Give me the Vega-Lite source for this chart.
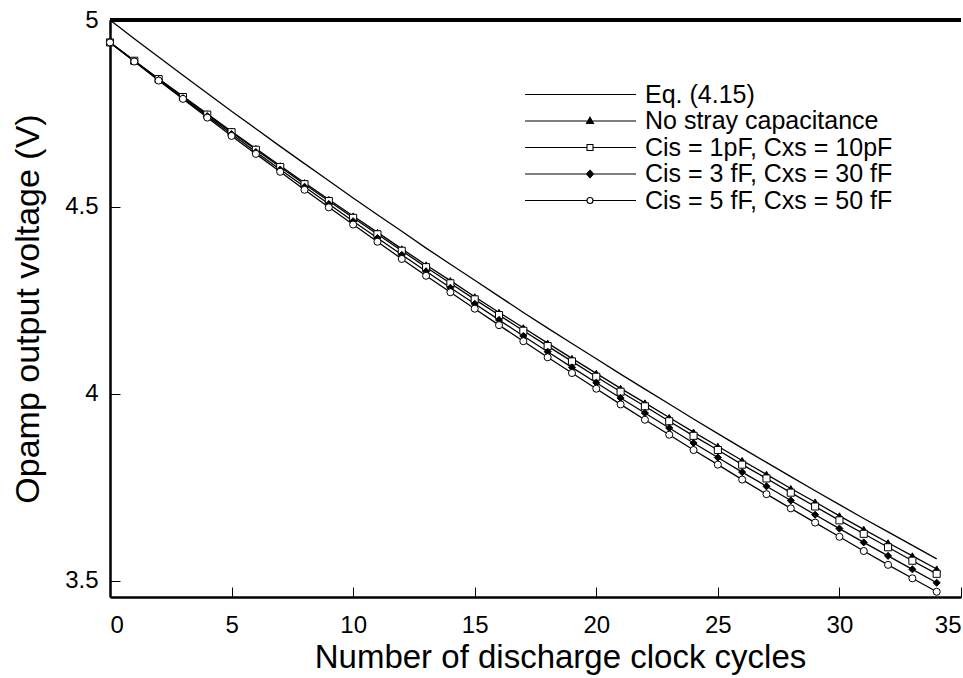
{
  "$schema": "https://vega.github.io/schema/vega-lite/v6.json",
  "width": 851,
  "height": 577,
  "autosize": {"type": "none"},
  "padding": {"left": 110, "top": 20, "right": 2, "bottom": 81},
  "background": "white",
  "config": {
    "view": {"stroke": null},
    "font": "Liberation Sans",
    "axis": {
      "domainColor": "black",
      "domainWidth": 2.5,
      "tickColor": "black",
      "tickWidth": 1,
      "tickSize": -10,
      "labelColor": "black",
      "labelFont": "Liberation Sans",
      "labelFontSize": 24,
      "titleFont": "Liberation Sans",
      "titleFontWeight": "normal",
      "titleColor": "black",
      "grid": false
    }
  },
  "data": {
    "values": [
      {"n": 0, "s": "Eq. (4.15)", "v": 5.000},
      {"n": 1, "s": "Eq. (4.15)", "v": 4.950},
      {"n": 2, "s": "Eq. (4.15)", "v": 4.901},
      {"n": 3, "s": "Eq. (4.15)", "v": 4.852},
      {"n": 4, "s": "Eq. (4.15)", "v": 4.804},
      {"n": 5, "s": "Eq. (4.15)", "v": 4.756},
      {"n": 6, "s": "Eq. (4.15)", "v": 4.709},
      {"n": 7, "s": "Eq. (4.15)", "v": 4.662},
      {"n": 8, "s": "Eq. (4.15)", "v": 4.616},
      {"n": 9, "s": "Eq. (4.15)", "v": 4.570},
      {"n": 10, "s": "Eq. (4.15)", "v": 4.524},
      {"n": 11, "s": "Eq. (4.15)", "v": 4.479},
      {"n": 12, "s": "Eq. (4.15)", "v": 4.435},
      {"n": 13, "s": "Eq. (4.15)", "v": 4.390},
      {"n": 14, "s": "Eq. (4.15)", "v": 4.347},
      {"n": 15, "s": "Eq. (4.15)", "v": 4.304},
      {"n": 16, "s": "Eq. (4.15)", "v": 4.261},
      {"n": 17, "s": "Eq. (4.15)", "v": 4.218},
      {"n": 18, "s": "Eq. (4.15)", "v": 4.176},
      {"n": 19, "s": "Eq. (4.15)", "v": 4.135},
      {"n": 20, "s": "Eq. (4.15)", "v": 4.094},
      {"n": 21, "s": "Eq. (4.15)", "v": 4.053},
      {"n": 22, "s": "Eq. (4.15)", "v": 4.013},
      {"n": 23, "s": "Eq. (4.15)", "v": 3.973},
      {"n": 24, "s": "Eq. (4.15)", "v": 3.933},
      {"n": 25, "s": "Eq. (4.15)", "v": 3.894},
      {"n": 26, "s": "Eq. (4.15)", "v": 3.855},
      {"n": 27, "s": "Eq. (4.15)", "v": 3.817},
      {"n": 28, "s": "Eq. (4.15)", "v": 3.779},
      {"n": 29, "s": "Eq. (4.15)", "v": 3.741},
      {"n": 30, "s": "Eq. (4.15)", "v": 3.704},
      {"n": 31, "s": "Eq. (4.15)", "v": 3.667},
      {"n": 32, "s": "Eq. (4.15)", "v": 3.631},
      {"n": 33, "s": "Eq. (4.15)", "v": 3.595},
      {"n": 34, "s": "Eq. (4.15)", "v": 3.559},

      {"n": 0, "s": "No stray capacitance", "v": 4.940},
      {"n": 1, "s": "No stray capacitance", "v": 4.891},
      {"n": 2, "s": "No stray capacitance", "v": 4.843},
      {"n": 3, "s": "No stray capacitance", "v": 4.796},
      {"n": 4, "s": "No stray capacitance", "v": 4.749},
      {"n": 5, "s": "No stray capacitance", "v": 4.702},
      {"n": 6, "s": "No stray capacitance", "v": 4.656},
      {"n": 7, "s": "No stray capacitance", "v": 4.610},
      {"n": 8, "s": "No stray capacitance", "v": 4.565},
      {"n": 9, "s": "No stray capacitance", "v": 4.520},
      {"n": 10, "s": "No stray capacitance", "v": 4.476},
      {"n": 11, "s": "No stray capacitance", "v": 4.432},
      {"n": 12, "s": "No stray capacitance", "v": 4.388},
      {"n": 13, "s": "No stray capacitance", "v": 4.345},
      {"n": 14, "s": "No stray capacitance", "v": 4.303},
      {"n": 15, "s": "No stray capacitance", "v": 4.260},
      {"n": 16, "s": "No stray capacitance", "v": 4.218},
      {"n": 17, "s": "No stray capacitance", "v": 4.177},
      {"n": 18, "s": "No stray capacitance", "v": 4.136},
      {"n": 19, "s": "No stray capacitance", "v": 4.095},
      {"n": 20, "s": "No stray capacitance", "v": 4.055},
      {"n": 21, "s": "No stray capacitance", "v": 4.015},
      {"n": 22, "s": "No stray capacitance", "v": 3.976},
      {"n": 23, "s": "No stray capacitance", "v": 3.937},
      {"n": 24, "s": "No stray capacitance", "v": 3.898},
      {"n": 25, "s": "No stray capacitance", "v": 3.860},
      {"n": 26, "s": "No stray capacitance", "v": 3.822},
      {"n": 27, "s": "No stray capacitance", "v": 3.785},
      {"n": 28, "s": "No stray capacitance", "v": 3.747},
      {"n": 29, "s": "No stray capacitance", "v": 3.711},
      {"n": 30, "s": "No stray capacitance", "v": 3.674},
      {"n": 31, "s": "No stray capacitance", "v": 3.638},
      {"n": 32, "s": "No stray capacitance", "v": 3.602},
      {"n": 33, "s": "No stray capacitance", "v": 3.567},
      {"n": 34, "s": "No stray capacitance", "v": 3.532},

      {"n": 0, "s": "Cis = 1pF, Cxs = 10pF", "v": 4.940},
      {"n": 1, "s": "Cis = 1pF, Cxs = 10pF", "v": 4.891},
      {"n": 2, "s": "Cis = 1pF, Cxs = 10pF", "v": 4.842},
      {"n": 3, "s": "Cis = 1pF, Cxs = 10pF", "v": 4.794},
      {"n": 4, "s": "Cis = 1pF, Cxs = 10pF", "v": 4.747},
      {"n": 5, "s": "Cis = 1pF, Cxs = 10pF", "v": 4.700},
      {"n": 6, "s": "Cis = 1pF, Cxs = 10pF", "v": 4.653},
      {"n": 7, "s": "Cis = 1pF, Cxs = 10pF", "v": 4.607},
      {"n": 8, "s": "Cis = 1pF, Cxs = 10pF", "v": 4.561},
      {"n": 9, "s": "Cis = 1pF, Cxs = 10pF", "v": 4.516},
      {"n": 10, "s": "Cis = 1pF, Cxs = 10pF", "v": 4.471},
      {"n": 11, "s": "Cis = 1pF, Cxs = 10pF", "v": 4.427},
      {"n": 12, "s": "Cis = 1pF, Cxs = 10pF", "v": 4.383},
      {"n": 13, "s": "Cis = 1pF, Cxs = 10pF", "v": 4.339},
      {"n": 14, "s": "Cis = 1pF, Cxs = 10pF", "v": 4.296},
      {"n": 15, "s": "Cis = 1pF, Cxs = 10pF", "v": 4.253},
      {"n": 16, "s": "Cis = 1pF, Cxs = 10pF", "v": 4.211},
      {"n": 17, "s": "Cis = 1pF, Cxs = 10pF", "v": 4.169},
      {"n": 18, "s": "Cis = 1pF, Cxs = 10pF", "v": 4.128},
      {"n": 19, "s": "Cis = 1pF, Cxs = 10pF", "v": 4.087},
      {"n": 20, "s": "Cis = 1pF, Cxs = 10pF", "v": 4.046},
      {"n": 21, "s": "Cis = 1pF, Cxs = 10pF", "v": 4.006},
      {"n": 22, "s": "Cis = 1pF, Cxs = 10pF", "v": 3.967},
      {"n": 23, "s": "Cis = 1pF, Cxs = 10pF", "v": 3.927},
      {"n": 24, "s": "Cis = 1pF, Cxs = 10pF", "v": 3.888},
      {"n": 25, "s": "Cis = 1pF, Cxs = 10pF", "v": 3.850},
      {"n": 26, "s": "Cis = 1pF, Cxs = 10pF", "v": 3.811},
      {"n": 27, "s": "Cis = 1pF, Cxs = 10pF", "v": 3.774},
      {"n": 28, "s": "Cis = 1pF, Cxs = 10pF", "v": 3.736},
      {"n": 29, "s": "Cis = 1pF, Cxs = 10pF", "v": 3.699},
      {"n": 30, "s": "Cis = 1pF, Cxs = 10pF", "v": 3.662},
      {"n": 31, "s": "Cis = 1pF, Cxs = 10pF", "v": 3.626},
      {"n": 32, "s": "Cis = 1pF, Cxs = 10pF", "v": 3.590},
      {"n": 33, "s": "Cis = 1pF, Cxs = 10pF", "v": 3.554},
      {"n": 34, "s": "Cis = 1pF, Cxs = 10pF", "v": 3.519},

      {"n": 0, "s": "Cis = 3 fF, Cxs = 30 fF", "v": 4.940},
      {"n": 1, "s": "Cis = 3 fF, Cxs = 30 fF", "v": 4.890},
      {"n": 2, "s": "Cis = 3 fF, Cxs = 30 fF", "v": 4.840},
      {"n": 3, "s": "Cis = 3 fF, Cxs = 30 fF", "v": 4.791},
      {"n": 4, "s": "Cis = 3 fF, Cxs = 30 fF", "v": 4.743},
      {"n": 5, "s": "Cis = 3 fF, Cxs = 30 fF", "v": 4.695},
      {"n": 6, "s": "Cis = 3 fF, Cxs = 30 fF", "v": 4.647},
      {"n": 7, "s": "Cis = 3 fF, Cxs = 30 fF", "v": 4.600},
      {"n": 8, "s": "Cis = 3 fF, Cxs = 30 fF", "v": 4.554},
      {"n": 9, "s": "Cis = 3 fF, Cxs = 30 fF", "v": 4.508},
      {"n": 10, "s": "Cis = 3 fF, Cxs = 30 fF", "v": 4.462},
      {"n": 11, "s": "Cis = 3 fF, Cxs = 30 fF", "v": 4.417},
      {"n": 12, "s": "Cis = 3 fF, Cxs = 30 fF", "v": 4.372},
      {"n": 13, "s": "Cis = 3 fF, Cxs = 30 fF", "v": 4.328},
      {"n": 14, "s": "Cis = 3 fF, Cxs = 30 fF", "v": 4.284},
      {"n": 15, "s": "Cis = 3 fF, Cxs = 30 fF", "v": 4.241},
      {"n": 16, "s": "Cis = 3 fF, Cxs = 30 fF", "v": 4.198},
      {"n": 17, "s": "Cis = 3 fF, Cxs = 30 fF", "v": 4.155},
      {"n": 18, "s": "Cis = 3 fF, Cxs = 30 fF", "v": 4.113},
      {"n": 19, "s": "Cis = 3 fF, Cxs = 30 fF", "v": 4.071},
      {"n": 20, "s": "Cis = 3 fF, Cxs = 30 fF", "v": 4.030},
      {"n": 21, "s": "Cis = 3 fF, Cxs = 30 fF", "v": 3.989},
      {"n": 22, "s": "Cis = 3 fF, Cxs = 30 fF", "v": 3.949},
      {"n": 23, "s": "Cis = 3 fF, Cxs = 30 fF", "v": 3.909},
      {"n": 24, "s": "Cis = 3 fF, Cxs = 30 fF", "v": 3.869},
      {"n": 25, "s": "Cis = 3 fF, Cxs = 30 fF", "v": 3.830},
      {"n": 26, "s": "Cis = 3 fF, Cxs = 30 fF", "v": 3.791},
      {"n": 27, "s": "Cis = 3 fF, Cxs = 30 fF", "v": 3.753},
      {"n": 28, "s": "Cis = 3 fF, Cxs = 30 fF", "v": 3.715},
      {"n": 29, "s": "Cis = 3 fF, Cxs = 30 fF", "v": 3.677},
      {"n": 30, "s": "Cis = 3 fF, Cxs = 30 fF", "v": 3.640},
      {"n": 31, "s": "Cis = 3 fF, Cxs = 30 fF", "v": 3.603},
      {"n": 32, "s": "Cis = 3 fF, Cxs = 30 fF", "v": 3.567},
      {"n": 33, "s": "Cis = 3 fF, Cxs = 30 fF", "v": 3.531},
      {"n": 34, "s": "Cis = 3 fF, Cxs = 30 fF", "v": 3.495},

      {"n": 0, "s": "Cis = 5 fF, Cxs = 50 fF", "v": 4.940},
      {"n": 1, "s": "Cis = 5 fF, Cxs = 50 fF", "v": 4.889},
      {"n": 2, "s": "Cis = 5 fF, Cxs = 50 fF", "v": 4.838},
      {"n": 3, "s": "Cis = 5 fF, Cxs = 50 fF", "v": 4.789},
      {"n": 4, "s": "Cis = 5 fF, Cxs = 50 fF", "v": 4.739},
      {"n": 5, "s": "Cis = 5 fF, Cxs = 50 fF", "v": 4.690},
      {"n": 6, "s": "Cis = 5 fF, Cxs = 50 fF", "v": 4.642},
      {"n": 7, "s": "Cis = 5 fF, Cxs = 50 fF", "v": 4.594},
      {"n": 8, "s": "Cis = 5 fF, Cxs = 50 fF", "v": 4.546},
      {"n": 9, "s": "Cis = 5 fF, Cxs = 50 fF", "v": 4.499},
      {"n": 10, "s": "Cis = 5 fF, Cxs = 50 fF", "v": 4.453},
      {"n": 11, "s": "Cis = 5 fF, Cxs = 50 fF", "v": 4.407},
      {"n": 12, "s": "Cis = 5 fF, Cxs = 50 fF", "v": 4.361},
      {"n": 13, "s": "Cis = 5 fF, Cxs = 50 fF", "v": 4.316},
      {"n": 14, "s": "Cis = 5 fF, Cxs = 50 fF", "v": 4.272},
      {"n": 15, "s": "Cis = 5 fF, Cxs = 50 fF", "v": 4.228},
      {"n": 16, "s": "Cis = 5 fF, Cxs = 50 fF", "v": 4.184},
      {"n": 17, "s": "Cis = 5 fF, Cxs = 50 fF", "v": 4.141},
      {"n": 18, "s": "Cis = 5 fF, Cxs = 50 fF", "v": 4.098},
      {"n": 19, "s": "Cis = 5 fF, Cxs = 50 fF", "v": 4.056},
      {"n": 20, "s": "Cis = 5 fF, Cxs = 50 fF", "v": 4.014},
      {"n": 21, "s": "Cis = 5 fF, Cxs = 50 fF", "v": 3.972},
      {"n": 22, "s": "Cis = 5 fF, Cxs = 50 fF", "v": 3.931},
      {"n": 23, "s": "Cis = 5 fF, Cxs = 50 fF", "v": 3.891},
      {"n": 24, "s": "Cis = 5 fF, Cxs = 50 fF", "v": 3.850},
      {"n": 25, "s": "Cis = 5 fF, Cxs = 50 fF", "v": 3.811},
      {"n": 26, "s": "Cis = 5 fF, Cxs = 50 fF", "v": 3.771},
      {"n": 27, "s": "Cis = 5 fF, Cxs = 50 fF", "v": 3.732},
      {"n": 28, "s": "Cis = 5 fF, Cxs = 50 fF", "v": 3.694},
      {"n": 29, "s": "Cis = 5 fF, Cxs = 50 fF", "v": 3.656},
      {"n": 30, "s": "Cis = 5 fF, Cxs = 50 fF", "v": 3.618},
      {"n": 31, "s": "Cis = 5 fF, Cxs = 50 fF", "v": 3.580},
      {"n": 32, "s": "Cis = 5 fF, Cxs = 50 fF", "v": 3.543},
      {"n": 33, "s": "Cis = 5 fF, Cxs = 50 fF", "v": 3.507},
      {"n": 34, "s": "Cis = 5 fF, Cxs = 50 fF", "v": 3.471}
    ]
  },
  "layer": [
    {
      "mark": {"type": "line", "color": "black", "strokeWidth": 1.3},
      "encoding": {
        "x": {
          "field": "n", "type": "quantitative",
          "scale": {"domain": [0, 35], "nice": false, "zero": false},
          "axis": {
            "title": "Number of discharge clock cycles",
            "values": [0, 5, 10, 15, 20, 25, 30, 35],
            "labelFlush": true,
            "labelPadding": 26,
            "titleFontSize": 33,
            "titlePadding": 4,
            "titleX": 450
          }
        },
        "y": {
          "field": "v", "type": "quantitative",
          "scale": {"domain": [3.457, 5.0], "nice": false, "zero": false},
          "axis": {
            "title": "Opamp output voltage (V)",
            "values": [3.5, 4, 4.5, 5],
            "format": ".1~f",
            "labelPadding": 22,
            "titleFontSize": 34,
            "titlePadding": 19
          }
        },
        "detail": {"field": "s"}
      }
    },
    {
      "transform": [{"filter": "datum.s !== 'Eq. (4.15)'"}],
      "mark": {"type": "point", "stroke": "black", "strokeWidth": 1, "size": 50, "opacity": 1, "filled": false},
      "encoding": {
        "x": {"field": "n", "type": "quantitative"},
        "y": {"field": "v", "type": "quantitative"},
        "shape": {
          "field": "s",
          "scale": {
            "domain": ["No stray capacitance", "Cis = 1pF, Cxs = 10pF", "Cis = 3 fF, Cxs = 30 fF", "Cis = 5 fF, Cxs = 50 fF"],
            "range": ["triangle-up", "square", "diamond", "circle"]
          },
          "legend": null
        },
        "fill": {
          "field": "s",
          "scale": {
            "domain": ["No stray capacitance", "Cis = 1pF, Cxs = 10pF", "Cis = 3 fF, Cxs = 30 fF", "Cis = 5 fF, Cxs = 50 fF"],
            "range": ["black", "white", "black", "white"]
          },
          "legend": null
        }
      }
    },
    {
      "mark": {"type": "point", "opacity": 0, "stroke": "black", "strokeWidth": 1.1, "filled": false},
      "encoding": {
        "x": {"field": "n", "type": "quantitative"},
        "y": {"field": "v", "type": "quantitative"},
        "shape": {
          "field": "s",
          "scale": {
            "domain": ["Eq. (4.15)", "No stray capacitance", "Cis = 1pF, Cxs = 10pF", "Cis = 3 fF, Cxs = 30 fF", "Cis = 5 fF, Cxs = 50 fF"],
            "range": [
              "M-5.75,0H5.35",
              "M-5.75,0H5.35M0.75,-0.38L1.1,0.25L0.4,0.25Z",
              "M-5.75,0H0.45M1.05,0H5.35M0.45,-0.3H1.05V0.3H0.45Z",
              "M-5.75,0H5.35M0.75,-0.38L1.1,0L0.75,0.38L0.4,0Z",
              "M-5.75,0H0.45M1.05,0H5.35M1.05,0A0.3,0.3 0 1,1 0.45,0A0.3,0.3 0 1,1 1.05,0Z"
            ]
          },
          "legend": {
            "title": null,
            "orient": "none",
            "legendX": 460,
            "legendY": 62,
            "symbolSize": 400,
            "symbolStrokeWidth": 1.1,
            "symbolStrokeColor": "black",
            "symbolOpacity": 1,
            "labelFont": "Liberation Sans",
            "labelFontSize": 25,
            "labelColor": "black",
            "labelLimit": 500,
            "labelOffset": 50,
            "rowPadding": 0.5,
            "padding": 0,
            "encode": {"symbols": {"update": {"stroke": {"value": "black"}, "strokeOpacity": {"value": 1}, "opacity": {"value": 1}}}}
          }
        },
        "fill": {
          "field": "s",
          "scale": {
            "domain": ["Eq. (4.15)", "No stray capacitance", "Cis = 1pF, Cxs = 10pF", "Cis = 3 fF, Cxs = 30 fF", "Cis = 5 fF, Cxs = 50 fF"],
            "range": ["white", "black", "white", "black", "white"]
          },
          "legend": {
            "title": null,
            "orient": "none",
            "legendX": 460,
            "legendY": 62,
            "symbolSize": 400,
            "symbolStrokeWidth": 1.1,
            "symbolStrokeColor": "black",
            "symbolOpacity": 1,
            "labelFont": "Liberation Sans",
            "labelFontSize": 25,
            "labelColor": "black",
            "labelLimit": 500,
            "labelOffset": 50,
            "rowPadding": 0.5,
            "padding": 0,
            "encode": {"symbols": {"update": {"stroke": {"value": "black"}, "strokeOpacity": {"value": 1}, "opacity": {"value": 1}}}}
          }
        }
      }
    },
    {
      "mark": {"type": "rule", "color": "black", "strokeWidth": 3},
      "encoding": {"y": {"datum": 5}}
    }
  ],
  "resolve": {"scale": {"shape": "independent", "fill": "independent"}, "legend": {"shape": "independent", "fill": "independent"}}
}
